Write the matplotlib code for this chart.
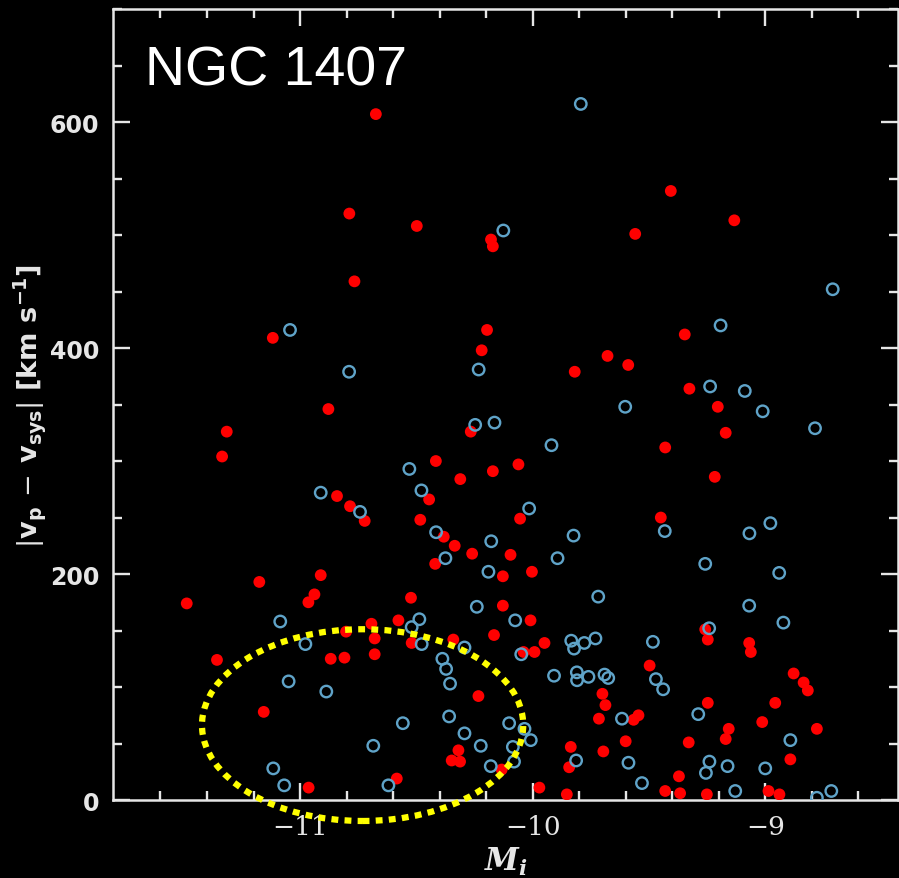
#!/usr/bin/env python3
"""NGC 1407: |v_p - v_sys| against M_i, red and blue GC subpopulations."""

import matplotlib
matplotlib.use("Agg")
import matplotlib.pyplot as plt
from matplotlib.patches import Ellipse

# red (filled) globular clusters: M_i, |v_p - v_sys| [km/s]
red_mi = [
    -10.674, -10.788, -10.498, -10.766, -10.179, -10.171, -9.559, -9.406, -9.133,
    -11.117, -10.878, -11.315, -11.335, -10.416, -10.445, -10.841, -10.785, -10.722,
    -10.483, -10.382, -10.419, -11.175, -10.911, -10.938, -11.487,
    -10.196, -10.219, -9.819, -9.678, -9.589, -9.346, -9.326, -9.204, -9.170,
    -10.266, -9.430, -10.311, -10.171, -10.061, -9.217, -10.054, -9.449, -10.335,
    -10.260, -10.095, -10.128, -10.003,
    -11.357, -10.964, -10.802, -10.693, -10.679, -10.679, -10.868, -10.809, -11.156, -10.963,
    -10.523, -10.128, -10.577, -10.520, -10.341, -10.166, -10.233, -10.319, -10.348,
    -10.312, -10.133, -10.584,
    -10.009, -9.949, -9.992, -10.039, -9.700, -9.687, -9.715, -9.566, -9.545, -9.836,
    -9.600, -9.696, -9.843, -9.971, -9.853,
    -9.258, -9.247, -9.069, -9.062, -9.497, -9.247, -9.157, -9.170, -9.013, -9.329,
    -9.371, -9.430, -9.366, -9.251, -8.986, -8.939,
    -8.878, -8.835, -8.817, -8.957, -8.778, -8.892,
]
red_dv = [
    607, 519, 508, 459, 496, 490, 501, 539, 513,
    409, 346, 326, 304, 300, 266, 269, 260, 247,
    248, 233, 209, 193, 199, 182, 174,
    416, 398, 379, 393, 385, 412, 364, 348, 325,
    326, 312, 284, 291, 297, 286, 249, 250, 225,
    218, 217, 198, 202,
    124, 175, 149, 156, 143, 129, 125, 126, 78, 11,
    179, 172, 159, 139, 142, 146, 92, 44, 35,
    34, 27, 19,
    159, 139, 131, 131, 94, 84, 72, 71, 75, 47,
    52, 43, 29, 11, 5,
    151, 142, 139, 131, 119, 86, 63, 54, 69, 51,
    21, 8, 6, 5, 8, 5,
    112, 104, 97, 86, 63, 36,
]

# blue (open) globular clusters
blue_mi = [
    -9.793, -10.126, -8.710,
    -11.043, -10.789, -10.530, -10.478, -10.911, -10.742, -10.415, -10.375,
    -10.232, -9.192, -9.237, -9.088, -9.011, -9.602, -8.786, -10.247, -10.164,
    -9.919, -10.015, -9.432, -9.824, -9.068, -8.978, -10.178, -9.893, -10.190,
    -9.258, -8.940, -9.718, -9.069,
    -11.085, -10.977, -11.049, -10.887, -10.685, -11.115, -11.068,
    -10.240, -10.487, -10.520, -10.477, -10.293, -10.388, -10.372, -10.355, -10.359,
    -10.558, -10.293, -10.223, -10.180, -10.620,
    -10.075, -10.049, -9.834, -9.822, -9.778, -9.730, -9.908, -9.810, -9.809,
    -9.760, -9.691, -9.675, -9.616, -10.101, -10.035, -10.008, -10.085, -10.080,
    -9.813, -9.588, -9.530,
    -9.241, -9.483, -9.470, -9.439, -9.288, -9.240, -9.255, -9.162, -9.000, -9.129,
    -8.922, -8.892, -8.778, -8.716,
]
blue_dv = [
    616, 504, 452,
    416, 379, 293, 274, 272, 255, 237, 214,
    381, 420, 366, 362, 344, 348, 329, 332, 334,
    314, 258, 238, 234, 236, 245, 229, 214, 202,
    209, 201, 180, 172,
    158, 138, 105, 96, 48, 28, 13,
    171, 160, 153, 138, 135, 125, 116, 103, 74,
    68, 59, 48, 30, 13,
    159, 129, 141, 134, 139, 143, 110, 113, 106,
    109, 111, 108, 72, 68, 63, 53, 47, 34,
    35, 33, 15,
    152, 140, 107, 98, 76, 34, 24, 30, 28, 8,
    157, 53, 2, 8,
]

# highlighted low-velocity bright region
ring_center = (-10.731, 66.3)
ring_width = 1.381
ring_height = 169.7

FG = "#e6e6e6"

plt.rcParams["mathtext.fontset"] = "custom"
plt.rcParams["mathtext.rm"] = "DejaVu Sans"
plt.rcParams["mathtext.bf"] = "DejaVu Sans:bold"
plt.rcParams["mathtext.it"] = "DejaVu Serif:italic:bold"


def main() -> None:
    fig = plt.figure(figsize=(8.99, 8.79), dpi=100, facecolor="black")
    ax = fig.add_axes([0.1257, 0.0887, 0.873, 0.8999], facecolor="black")

    ax.scatter(red_mi, red_dv, s=72, c="#ff0000", edgecolors="none", zorder=3)
    ax.scatter(blue_mi, blue_dv, s=68, facecolors="none", edgecolors="#5fa3c8",
               linewidths=1.7, zorder=3)

    ring = Ellipse(ring_center, ring_width, ring_height, fill=False, edgecolor="#ffff00",
                   linewidth=4.5, linestyle=(0, (1.1, 1.0)), clip_on=False, zorder=4)
    ax.add_patch(ring)

    ax.set_xlim(-11.804, -8.43)
    ax.set_ylim(0, 700)
    ax.set_xticks([-11, -10, -9])
    ax.set_xticklabels(["\u221211", "\u221210", "\u22129"], family="DejaVu Serif", fontsize=19)
    ax.set_xticks([x / 10 for x in range(-116, -84, 2)], minor=True)
    ax.set_yticks([0, 200, 400, 600])
    ax.set_yticks(list(range(0, 701, 50)), minor=True)
    for lab in ax.get_yticklabels():
        lab.set_fontsize(17)
        lab.set_fontweight("bold")

    ax.tick_params(which="both", direction="in", top=True, right=True, colors=FG,
                   width=1.7, labelcolor=FG)
    ax.tick_params(which="major", length=12, pad=10)
    ax.tick_params(which="minor", length=6.5)
    ax.tick_params(axis="y", labelright=False)
    for side in ax.spines.values():
        side.set_color(FG)
        side.set_linewidth(1.8)

    ax.set_xlabel(r"$M_i$", fontsize=22, color=FG, labelpad=4)
    ax.set_ylabel(r"$|\mathbf{v}_{\mathbf{p}}\,-\,\mathbf{v}_{\mathbf{sys}}|$ [km s$^{\mathbf{-1}}$]",
                  fontsize=19.5, color=FG, fontweight="bold", va="center")
    ax.yaxis.set_label_coords(-0.106, 0.5)

    ax.text(0.041, 0.905, "NGC 1407", transform=ax.transAxes, color="white",
            fontsize=40, family="Liberation Sans", va="baseline", ha="left")

    fig.savefig("out.png", dpi=100, facecolor="black")
    plt.close(fig)


if __name__ == "__main__":
    main()
